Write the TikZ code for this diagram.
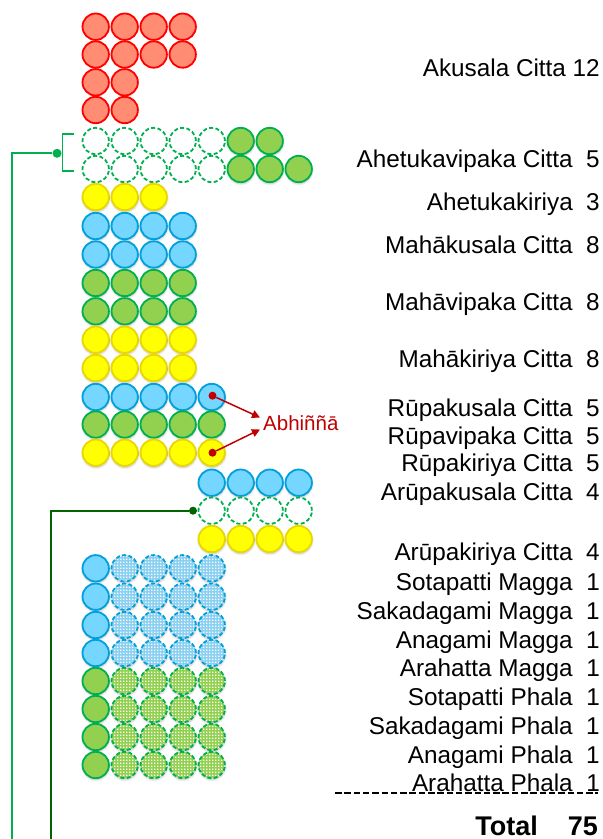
\documentclass[tikz,border=0pt]{standalone}
\usepackage{fontspec}
\setmainfont{Liberation Sans}
\usetikzlibrary{arrows.meta,shadows.blur,patterns.meta}

\definecolor{akfill}{RGB}{255,140,115}
\definecolor{akline}{RGB}{255,0,0}
\definecolor{gfill}{RGB}{146,208,80}
\definecolor{gline}{RGB}{0,176,80}
\definecolor{yfill}{RGB}{255,255,0}
\definecolor{yline}{RGB}{232,215,0}
\definecolor{bfill}{RGB}{117,214,255}
\definecolor{bline}{RGB}{0,160,220}
\definecolor{bdotfill}{RGB}{138,208,240}
\definecolor{gdotfill}{RGB}{146,208,80}
\definecolor{dkgreen}{RGB}{0,100,0}
\definecolor{abred}{RGB}{192,0,0}

% white grid of small squares laid over the lokuttara circles
\tikzdeclarepattern{
  name=wgrid,
  type=uncolored,
  bounding box={(0pt,0pt) and (3.4pt,3.4pt)},
  tile size={(3.4pt,3.4pt)},
  code={\fill (0pt,0pt) rectangle (1.7pt,1.7pt);}
}

\begin{document}
\begin{tikzpicture}[x=1pt,y=-1pt,
  ccell/.style={circle, minimum size=26.4pt, inner sep=0pt, line width=1.8pt},
  softshadow/.style={blur shadow={shadow xshift=0.3pt, shadow yshift=-1.6pt,
      shadow blur radius=2pt, shadow blur steps=5, shadow opacity=25}},
  dashring/.style={dash pattern=on 4pt off 2.4pt},
  akc/.style={ccell, fill=akfill, draw=akline},
  gc/.style={ccell, softshadow, fill=gfill, draw=gline},
  yc/.style={ccell, softshadow, fill=yfill, draw=yline},
  bc/.style={ccell, softshadow, fill=bfill, draw=bline},
  gemp/.style={ccell, fill=white, draw=gline, dashring},
  bdt/.style={ccell, softshadow, preaction={fill=bdotfill}, pattern=wgrid,
      pattern color=white, draw=bline, dashring},
  gdt/.style={ccell, softshadow, preaction={fill=gdotfill}, pattern=wgrid,
      pattern color=white, draw=gline, dashring},
  lbl/.style={anchor=base east, inner sep=0pt, font=\fontsize{24.3}{28}\selectfont},
  joint/.style={circle, inner sep=0pt, minimum size=9pt},
]
\useasboundingbox (0,0) rectangle (603,839);

% Akusala citta 12
\foreach \r/\y/\n in {1/26.7/4, 2/54.5/4, 3/82.3/2, 4/110/2}
  \foreach \c in {1,...,\n}
    \node[akc] (ak-\r-\c) at ({95.7+29*(\c-1)},\y) {};

% Ahetuka vipaka
\foreach \c in {1,...,5} {
  \node[gemp] (ahv-1-\c) at ({95.7+29*(\c-1)},141) {};
  \node[gemp] (ahv-2-\c) at ({95.7+29*(\c-1)},169) {};
}
\foreach \c in {6,7}
  \node[gc] (ahv-1-\c) at ({95.7+29*(\c-1)},141) {};
\foreach \c in {6,7,8}
  \node[gc] (ahv-2-\c) at ({95.7+29*(\c-1)},169) {};

% Ahetuka kiriya
\foreach \c in {1,2,3}
  \node[yc] (ahk-\c) at ({95.7+29*(\c-1)},197) {};

% Mahaggata kamavacara
\foreach \r/\y/\s in {1/226/bc, 2/254.5/bc, 3/283/gc, 4/311.3/gc, 5/339.7/yc, 6/368/yc}
  \foreach \c in {1,...,4}
    \node[\s] (mk-\r-\c) at ({95.7+29*(\c-1)},\y) {};

% Rupavacara
\foreach \r/\y/\s in {1/397/bc, 2/424.5/gc, 3/452.7/yc}
  \foreach \c in {1,...,5}
    \node[\s] (rp-\r-\c) at ({95.7+29*(\c-1)},\y) {};

% Arupavacara
\foreach \c in {5,...,8} {
  \node[bc] (ar-1-\c) at ({95.7+29*(\c-1)},482.7) {};
  \node[gemp] (ar-2-\c) at ({95.7+29*(\c-1)},510.7) {};
  \node[yc] (ar-3-\c) at ({95.7+29*(\c-1)},539) {};
}

% Lokuttara: magga and phala
\foreach \r/\y/\s/\t in {1/568.3/bc/bdt, 2/596.7/bc/bdt, 3/625/bc/bdt, 4/653/bc/bdt,
                          5/681/gc/gdt, 6/709/gc/gdt, 7/737/gc/gdt, 8/765/gc/gdt} {
  \node[\s] (lk-\r-1) at (95.7,\y) {};
  \foreach \c in {2,...,5}
    \node[\t] (lk-\r-\c) at ({95.7+29*(\c-1)},\y) {};
}

% bracket and link from the ahetuka vipaka rows
\draw[gline, line width=1.8pt] (74,134) -- (62.5,134) -- (62.5,171) -- (74,171);
\node[joint, fill=gline] (jd1) at (57,153.3) {};
\coordinate (jb1) at (12,842);
\draw[gline, line width=1.8pt] (jd1) -| (jb1);

% link from the arupa vipaka row
\node[joint, fill=dkgreen, minimum size=8pt] (jd2) at (193,510.7) {};
\coordinate (jb2) at (51,842);
\draw[dkgreen, line width=1.8pt] (jd2) -| (jb2);

% Abhinna pointers
\node[circle, fill=abred, inner sep=0pt, minimum size=8pt] (ad1) at (212.5,395.7) {};
\node[circle, fill=abred, inner sep=0pt, minimum size=8pt] (ad2) at (212.5,452.7) {};
\coordinate (at1) at (260,417.5);
\coordinate (at2) at (260,429.5);
\draw[abred, line width=1.5pt, -{Triangle[length=8pt,width=8pt]}] (ad1) -- (at1);
\draw[abred, line width=1.5pt, -{Triangle[length=8pt,width=8pt]}] (ad2) -- (at2);
\node[anchor=base west, inner sep=0pt, text=abred, font=\fontsize{20.5}{24}\selectfont]
  (abh) at (263,430.7) {Abhiññā};

% labels
\node[lbl] (l1)  at (600,76.5)  {Akusala Citta 12};
\node[lbl] (l2)  at (600,167.5) {Ahetukavipaka Citta~~5};
\node[lbl] (l3)  at (600,210)   {Ahetukakiriya~~3};
\node[lbl] (l4)  at (600,253.5) {Mahākusala Citta~~8};
\node[lbl] (l5)  at (600,310.5) {Mahāvipaka Citta~~8};
\node[lbl] (l6)  at (600,367.5) {Mahākiriya Citta~~8};
\node[lbl] (l7)  at (600,416)   {Rūpakusala Citta~~5};
\node[lbl] (l8)  at (600,444)   {Rūpavipaka Citta~~5};
\node[lbl] (l9)  at (600,471.5) {Rūpakiriya Citta~~5};
\node[lbl] (l10) at (600,500)   {Arūpakusala Citta~~4};
\node[lbl] (l11) at (600,560.7) {Arūpakiriya Citta~~4};
\node[lbl] (l12) at (600,590.5) {Sotapatti Magga~~1};
\node[lbl] (l13) at (600,619.5) {Sakadagami Magga~~1};
\node[lbl] (l14) at (600,648.5) {Anagami Magga~~1};
\node[lbl] (l15) at (600,676.5) {Arahatta Magga~~1};
\node[lbl] (l16) at (600,705.5) {Sotapatti Phala~~1};
\node[lbl] (l17) at (600,734.3) {Sakadagami Phala~~1};
\node[lbl] (l18) at (600,763.3) {Anagami Phala~~1};
\node[lbl] (l19) at (600,791)   {Arahatta Phala~~1};

% sum line and total
\coordinate (sl1) at (335,792.7);
\coordinate (sl2) at (598,792.7);
\draw[dash pattern=on 6.5pt off 2.8pt, line width=2pt] (sl1) -- (sl2);
\node[anchor=base east, inner sep=0pt, font=\bfseries\fontsize{27}{30}\selectfont]
  (tot) at (598,835.5) {Total\hspace{30pt}75};
\end{tikzpicture}
\end{document}
